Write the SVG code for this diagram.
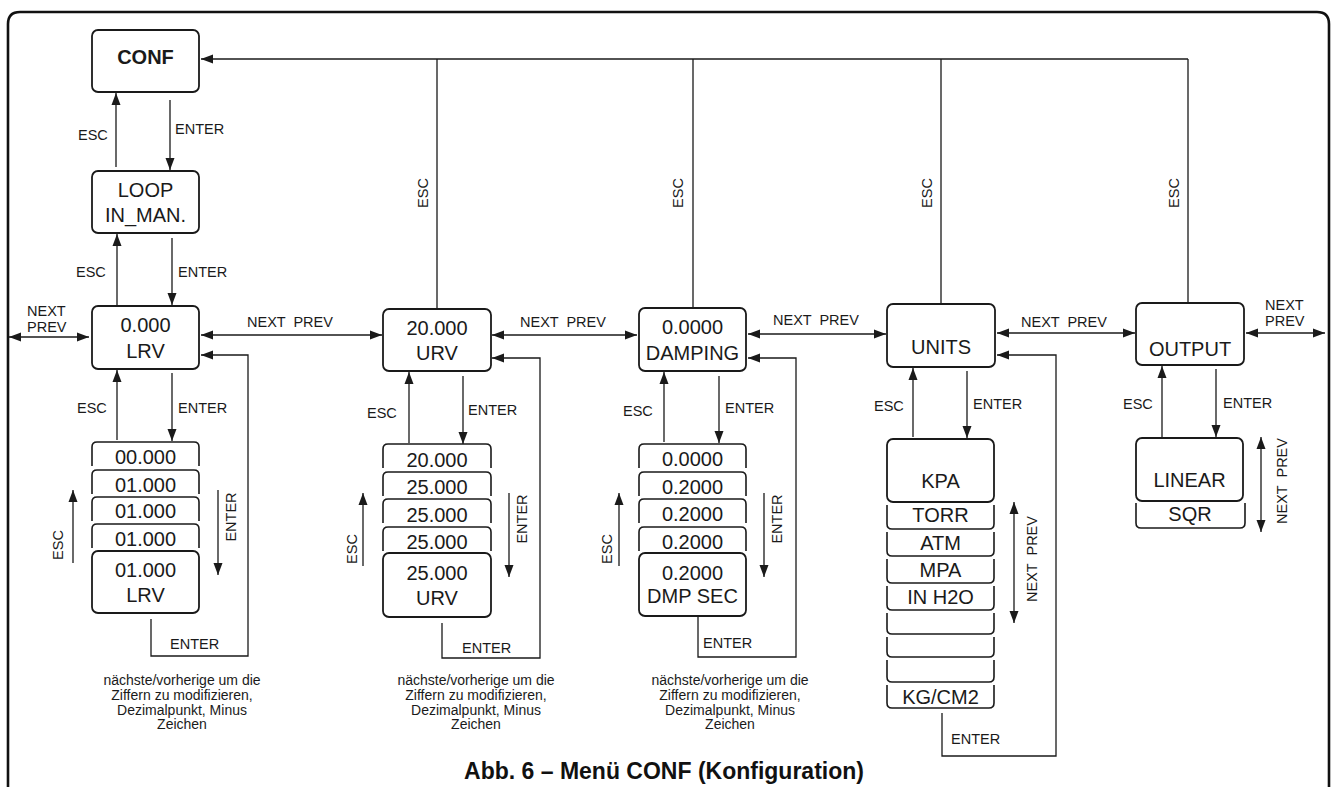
<svg xmlns="http://www.w3.org/2000/svg" width="1335" height="787" viewBox="0 0 1335 787">
<defs>
<marker id="ah" markerUnits="userSpaceOnUse" markerWidth="12" markerHeight="10" refX="12" refY="5" orient="auto-start-reverse" viewBox="0 0 12 10">
<path d="M0,0.5 L12,5 L0,9.5 z" fill="#1a1a1a"/>
</marker>
<style>
.box{fill:#fff;stroke:#1a1a1a;stroke-width:1.8}
.br{fill:none;stroke:#1a1a1a;stroke-width:1.6}
.big{font-family:"Liberation Sans",Arial,sans-serif;font-size:20px;fill:#1a1a1a;text-anchor:middle}
.lbl{font-family:"Liberation Sans",Arial,sans-serif;font-size:14.5px;fill:#1a1a1a}
.cap{font-family:"Liberation Sans",Arial,sans-serif;font-size:14px;fill:#1a1a1a;text-anchor:middle}
.ln{fill:none;stroke:#1a1a1a;stroke-width:1.3}
.a{marker-end:url(#ah)}
.d{marker-start:url(#ah);marker-end:url(#ah)}
.mid{text-anchor:middle}
</style>
</defs>
<rect width="1335" height="787" fill="#fff"/>
<path d="M8,787 V24 Q8,12 20,12 H1317 Q1329,12 1329,24 V787" fill="none" stroke="#111" stroke-width="2.6"/>

<g id="connectors">
<path class="ln a" d="M1188,59 H201"/>
<path class="ln" d="M437,59 V309 M693,59 V308 M941,59 V304 M1188,59 V303"/>
<path class="ln a" d="M116,167 V93"/>
<path class="ln a" d="M170,100 V170"/>
<path class="ln a" d="M117,305 V234"/>
<path class="ln a" d="M172,238 V305"/>
<path class="ln a" d="M117,440 V370"/>
<path class="ln a" d="M172,373 V441"/>
<path class="ln d" d="M9,337 H89"/>
<path class="ln d" d="M201,335 H382"/>
<path class="ln a" d="M151,619 V656 H248 V355 H201"/>
<path class="ln a" d="M73,563 V490"/>
<path class="ln a" d="M218,490 V575"/>
<path class="ln a" d="M409,443 V372"/>
<path class="ln a" d="M463,376 V444"/>
<path class="ln d" d="M492,335 H637"/>
<path class="ln a" d="M442,623 V658 H540 V358 H492"/>
<path class="ln a" d="M363,566 V493"/>
<path class="ln a" d="M509,493 V577"/>
<path class="ln a" d="M664,442 V372"/>
<path class="ln a" d="M719,376 V443"/>
<path class="ln d" d="M748,334 H886"/>
<path class="ln a" d="M698,617 V657 H796 V358 H748"/>
<path class="ln a" d="M619,566 V493"/>
<path class="ln a" d="M764,493 V577"/>
<path class="ln a" d="M913,437 V368"/>
<path class="ln a" d="M967,371 V438"/>
<path class="ln d" d="M997,333 H1135"/>
<path class="ln a" d="M942,713 V756 H1056 V355 H997"/>
<path class="ln d" d="M1014,502 V623"/>
<path class="ln a" d="M1162,437 V366"/>
<path class="ln a" d="M1216,369 V437"/>
<path class="ln d" d="M1246,333 H1325"/>
<path class="ln d" d="M1261,437 V532"/>
</g>

<g id="connector-labels">
<text class="lbl mid" transform="translate(428,193) rotate(-90)">ESC</text>
<text class="lbl mid" transform="translate(683,193) rotate(-90)">ESC</text>
<text class="lbl mid" transform="translate(932,193) rotate(-90)">ESC</text>
<text class="lbl mid" transform="translate(1179,193) rotate(-90)">ESC</text>
<text class="lbl" x="78" y="140">ESC</text>
<text class="lbl" x="175" y="134">ENTER</text>
<text class="lbl" x="76" y="277">ESC</text>
<text class="lbl" x="178" y="277">ENTER</text>
<text class="lbl" x="77" y="413">ESC</text>
<text class="lbl" x="178" y="413">ENTER</text>
<text class="lbl" x="27" y="316">NEXT</text>
<text class="lbl" x="27" y="332">PREV</text>
<text class="lbl" x="247" y="327" word-spacing="4">NEXT PREV</text>
<text class="lbl" x="170" y="649">ENTER</text>
<text class="lbl mid" transform="translate(63,545) rotate(-90)">ESC</text>
<text class="lbl mid" transform="translate(236,517) rotate(-90)">ENTER</text>
<text class="lbl" x="367" y="418">ESC</text>
<text class="lbl" x="468" y="415">ENTER</text>
<text class="lbl" x="520" y="327" word-spacing="4">NEXT PREV</text>
<text class="lbl" x="462" y="653">ENTER</text>
<text class="lbl mid" transform="translate(357,549) rotate(-90)">ESC</text>
<text class="lbl mid" transform="translate(527,519) rotate(-90)">ENTER</text>
<text class="lbl" x="623" y="416">ESC</text>
<text class="lbl" x="725" y="413">ENTER</text>
<text class="lbl" x="773" y="325" word-spacing="4">NEXT PREV</text>
<text class="lbl" x="703" y="648">ENTER</text>
<text class="lbl mid" transform="translate(612,549) rotate(-90)">ESC</text>
<text class="lbl mid" transform="translate(782,519) rotate(-90)">ENTER</text>
<text class="lbl" x="874" y="411">ESC</text>
<text class="lbl" x="973" y="409">ENTER</text>
<text class="lbl" x="1021" y="327" word-spacing="4">NEXT PREV</text>
<text class="lbl" x="951" y="744">ENTER</text>
<text class="lbl mid" transform="translate(1037,559) rotate(-90)" word-spacing="4">NEXT PREV</text>
<text class="lbl" x="1123" y="409">ESC</text>
<text class="lbl" x="1223" y="408">ENTER</text>
<text class="lbl" x="1265" y="310">NEXT</text>
<text class="lbl" x="1265" y="326">PREV</text>
<text class="lbl mid" transform="translate(1287,481) rotate(-90)" word-spacing="4">NEXT PREV</text>
</g>

<g id="conf">
<rect class="box" x="92" y="30" width="107" height="62" rx="6"/>
<text class="big" x="145.5" y="64" font-weight="bold">CONF</text>
</g>
<g id="loop">
<rect class="box" x="92" y="171" width="107" height="62" rx="6"/>
<text class="big" x="145.5" y="197">LOOP</text>
<text class="big" x="145.5" y="222">IN_MAN.</text>
</g>
<g id="lrv">
<rect class="box" x="92" y="306" width="107" height="63" rx="6"/>
<text class="big" x="145.5" y="332">0.000</text>
<text class="big" x="145.5" y="358">LRV</text>
</g>
<g id="lrv-stack">
<path class="br" d="M92,466 V447 Q92,442 97,442 H194 Q199,442 199,447 V466"/>
<text class="big" x="145.5" y="464">00.000</text>
<path class="br" d="M92,494 V475 Q92,470 97,470 H194 Q199,470 199,475 V494"/>
<text class="big" x="145.5" y="492">01.000</text>
<path class="br" d="M92,521 V502 Q92,497 97,497 H194 Q199,497 199,502 V521"/>
<text class="big" x="145.5" y="518">01.000</text>
<path class="br" d="M92,548 V529 Q92,524 97,524 H194 Q199,524 199,529 V548"/>
<text class="big" x="145.5" y="546">01.000</text>
<rect class="box" x="92" y="551" width="107" height="62" rx="6"/>
<text class="big" x="145.5" y="577">01.000</text>
<text class="big" x="145.5" y="602">LRV</text>
</g>
<g id="urv">
<rect class="box" x="383" y="309" width="108" height="62" rx="6"/>
<text class="big" x="437" y="335">20.000</text>
<text class="big" x="437" y="360">URV</text>
</g>
<g id="urv-stack">
<path class="br" d="M383,468 V449 Q383,444 388,444 H486 Q491,444 491,449 V468"/>
<text class="big" x="437" y="467">20.000</text>
<path class="br" d="M383,496 V477 Q383,472 388,472 H486 Q491,472 491,477 V496"/>
<text class="big" x="437" y="494">25.000</text>
<path class="br" d="M383,523 V504 Q383,499 388,499 H486 Q491,499 491,504 V523"/>
<text class="big" x="437" y="522">25.000</text>
<path class="br" d="M383,551 V532 Q383,527 388,527 H486 Q491,527 491,532 V551"/>
<text class="big" x="437" y="549">25.000</text>
<rect class="box" x="383" y="553" width="108" height="64" rx="6"/>
<text class="big" x="437" y="580">25.000</text>
<text class="big" x="437" y="605">URV</text>
</g>
<g id="damping">
<rect class="box" x="639" y="308" width="107" height="63" rx="6"/>
<text class="big" x="692.5" y="334">0.0000</text>
<text class="big" x="692.5" y="360">DAMPING</text>
</g>
<g id="damping-stack">
<path class="br" d="M639,468 V449 Q639,444 644,444 H741 Q746,444 746,449 V468"/>
<text class="big" x="692.5" y="466">0.0000</text>
<path class="br" d="M639,496 V477 Q639,472 644,472 H741 Q746,472 746,477 V496"/>
<text class="big" x="692.5" y="494">0.2000</text>
<path class="br" d="M639,523 V504 Q639,499 644,499 H741 Q746,499 746,504 V523"/>
<text class="big" x="692.5" y="521">0.2000</text>
<path class="br" d="M639,551 V532 Q639,527 644,527 H741 Q746,527 746,532 V551"/>
<text class="big" x="692.5" y="549">0.2000</text>
<rect class="box" x="639" y="553" width="107" height="63" rx="6"/>
<text class="big" x="692.5" y="580">0.2000</text>
<text class="big" x="692.5" y="603">DMP SEC</text>
</g>
<g id="units">
<rect class="box" x="887" y="304" width="108" height="63" rx="6"/>
<text class="big" x="941" y="354">UNITS</text>
</g>
<g id="units-stack">
<rect class="box" x="887" y="439" width="107" height="63" rx="6"/>
<text class="big" x="940.5" y="488">KPA</text>
<path class="br" d="M887,505 V524 Q887,529 892,529 H989 Q994,529 994,524 V505"/>
<text class="big" x="940.5" y="522">TORR</text>
<path class="br" d="M887,532 V551 Q887,556 892,556 H989 Q994,556 994,551 V532"/>
<text class="big" x="940.5" y="550">ATM</text>
<path class="br" d="M887,559 V578 Q887,583 892,583 H989 Q994,583 994,578 V559"/>
<text class="big" x="940.5" y="577">MPA</text>
<path class="br" d="M887,586 V605 Q887,610 892,610 H989 Q994,610 994,605 V586"/>
<text class="big" x="940.5" y="604">IN H2O</text>
<path class="br" d="M887,613 V629 Q887,634 892,634 H989 Q994,634 994,629 V613"/>
<path class="br" d="M887,637 V652 Q887,657 892,657 H989 Q994,657 994,652 V637"/>
<path class="br" d="M887,660 V677 Q887,682 892,682 H989 Q994,682 994,677 V660"/>
<path class="br" d="M887,685 V703 Q887,708 892,708 H989 Q994,708 994,703 V685"/>
<text class="big" x="940.5" y="704">KG/CM2</text>
</g>
<g id="output">
<rect class="box" x="1136" y="303" width="108" height="62" rx="6"/>
<text class="big" x="1190" y="356">OUTPUT</text>
</g>
<g id="output-stack">
<rect class="box" x="1136" y="438" width="107" height="63" rx="6"/>
<text class="big" x="1189.5" y="487">LINEAR</text>
<path class="br" d="M1136,503 V523 Q1136,528 1141,528 H1240 Q1245,528 1245,523 V503"/>
<text class="big" x="1190" y="521">SQR</text>
</g>

<g id="captions">
<text class="cap" x="182" y="685">nächste/vorherige um die</text>
<text class="cap" x="182" y="700">Ziffern zu modifizieren,</text>
<text class="cap" x="182" y="715">Dezimalpunkt, Minus</text>
<text class="cap" x="182" y="729">Zeichen</text>
<text class="cap" x="476" y="685">nächste/vorherige um die</text>
<text class="cap" x="476" y="700">Ziffern zu modifizieren,</text>
<text class="cap" x="476" y="715">Dezimalpunkt, Minus</text>
<text class="cap" x="476" y="729">Zeichen</text>
<text class="cap" x="730" y="685">nächste/vorherige um die</text>
<text class="cap" x="730" y="700">Ziffern zu modifizieren,</text>
<text class="cap" x="730" y="715">Dezimalpunkt, Minus</text>
<text class="cap" x="730" y="729">Zeichen</text>
</g>
<g id="title">
<text x="664" y="779" font-family="'Liberation Sans',Arial,sans-serif" font-size="23" font-weight="bold" text-anchor="middle" fill="#111">Abb. 6 – Menü CONF (Konfiguration)</text>
</g>
</svg>
